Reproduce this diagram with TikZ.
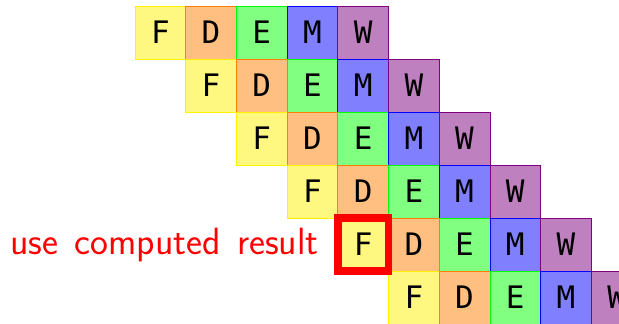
\documentclass[tikz,border=0pt]{standalone}
\usepackage{fontspec}
\newfontfamily\cellfont{DejaVu Sans Mono}
\setsansfont{Latin Modern Sans}
\tikzset{
  x=1pt,y=1pt,
  cell/.style={minimum width=50.7pt,minimum height=53pt,inner sep=0pt,outer sep=0pt,
    anchor=north west,font=\cellfont\fontsize{31}{31}\selectfont,line width=0.8pt},
  cF/.style={cell,fill=yellow!50,draw=yellow},
  cD/.style={cell,fill=orange!50,draw=orange},
  cE/.style={cell,fill=green!50,draw=green},
  cM/.style={cell,fill=blue!50,draw=blue},
  cW/.style={cell,fill=violet!50,draw=violet},
  mark box/.style={draw=red,line width=7.5pt},
  note/.style={text=red,font=\sffamily\fontsize{38}{38}\selectfont,inner sep=0pt}
}
\begin{document}
\begin{tikzpicture}
\useasboundingbox (0,0) rectangle (619,324);
\clip (0,0) rectangle (619,324);
\foreach \r in {0,...,5}{
  \foreach \c/\L in {0/F,1/D,2/E,3/M,4/W}{
    \node[c\L] (c-\r-\c) at ({135+50.7*(\r+\c)},{318-53*\r}) {\L};
  }
}
\draw[mark box] (c-4-0.north west) rectangle (c-4-0.south east);
\node[note,anchor=base east] (txt) at (319,69) {\spaceskip=16.5pt plus 1pt\relax use computed result};
\end{tikzpicture}
\end{document}
